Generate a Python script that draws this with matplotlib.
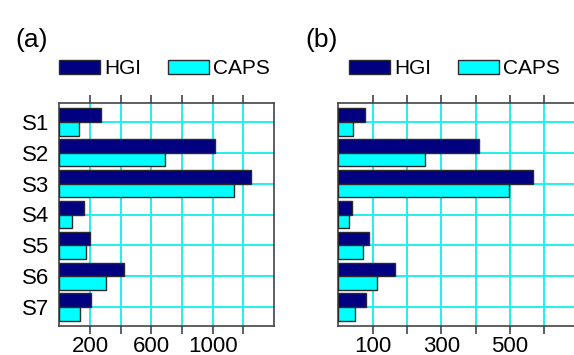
import matplotlib
matplotlib.use("Agg")
import matplotlib.pyplot as plt
from matplotlib.patches import Patch
import numpy as np

categories = ["S1", "S2", "S3", "S4", "S5", "S6", "S7"]
series_names = ["HGI", "CAPS"]
hgi_a = [270, 1015, 1248, 159, 200, 424, 205]
caps_a = [130, 689, 1141, 83, 174, 307, 135]
hgi_b = [77, 409, 566, 41, 88, 166, 80]
caps_b = [43, 253, 498, 31, 72, 112, 49]
ticks_a = [200, 400, 600, 800, 1000, 1200]
ticklabels_a = ["200", "", "600", "", "1000", ""]
ticks_b = [100, 200, 300, 400, 500, 600]
ticklabels_b = ["100", "", "300", "", "500", ""]
panel_titles = ["(a)", "(b)"]

plt.rcParams['font.family'] = ['Liberation Sans', 'DejaVu Sans']

W, H = 574, 355
fig = plt.figure(figsize=(W / 100, H / 100), dpi=100)

HGI_COLOR = "#000080"
CAPS_COLOR = "#00FFFF"
EDGE = "#2a2a2a"
GRID = "#22EEEE"
SPINE = "#444444"

def px_axes(left, right, top, bottom):
    return [left / W, (H - bottom) / H, (right - left) / W, (bottom - top) / H]

ax_a = fig.add_axes(px_axes(59.3, 274, 103, 326))
ax_b = fig.add_axes(px_axes(338.3, 338.3 + 7 * 34.33, 103, 326))

y = np.arange(1, len(categories) + 1)
bh = 0.45

def draw(ax, hgi, caps, xlim, ticks, labels, show_y):
    ax.barh(y - bh / 2, hgi, height=bh, color=HGI_COLOR, edgecolor=EDGE,
            linewidth=1.0, zorder=3)
    ax.barh(y + bh / 2, caps, height=bh, color=CAPS_COLOR, edgecolor=EDGE,
            linewidth=1.0, zorder=3)
    ax.set_xlim(*xlim)
    ax.set_ylim(7.6, 0.4)
    ax.set_xticks(ticks)
    ax.set_xticklabels(labels, fontsize=16)
    ax.set_yticks(y)
    if show_y:
        ax.set_yticklabels(categories, fontsize=16)
    else:
        ax.set_yticklabels([])
    ax.tick_params(axis='x', which='both', direction='out', length=6,
                   width=1.2, color=SPINE, top=True, bottom=True, pad=1)
    ax.tick_params(axis='y', length=0, pad=7)
    ax.grid(True, color=GRID, linewidth=1.4, zorder=0)
    ax.set_axisbelow(True)
    for s in ax.spines.values():
        s.set_color(SPINE)
        s.set_linewidth(1.2)

draw(ax_a, hgi_a, caps_a, (0, 1400), ticks_a, ticklabels_a, True)
draw(ax_b, hgi_b, caps_b, (0, 700), ticks_b, ticklabels_b, False)

handles = [Patch(facecolor=HGI_COLOR, edgecolor=EDGE, linewidth=1.0),
           Patch(facecolor=CAPS_COLOR, edgecolor=EDGE, linewidth=1.0)]

fs_leg = 15
em = fs_leg * 100 / 72
for i, off in enumerate([0, 290]):
    fig.legend(handles, series_names, ncol=2, frameon=False,
               loc='center left',
               bbox_to_anchor=((59.3 + off) / W, (H - 68.8) / H),
               bbox_transform=fig.transFigure,
               borderpad=0, borderaxespad=0,
               fontsize=fs_leg, handlelength=41 / em, handleheight=12.5 / em,
               handletextpad=0.18, columnspacing=1.3)
    fig.text((15.5 + off) / W, (H - 39.5) / H, panel_titles[i], fontsize=19,
             ha='left', va='center')

fig.savefig("out.png", dpi=100)
